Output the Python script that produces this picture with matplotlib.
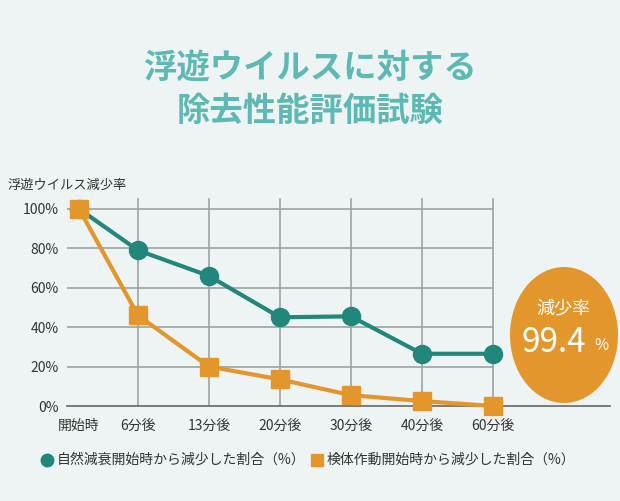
import matplotlib
matplotlib.use("Agg")
import matplotlib.pyplot as plt
from matplotlib.patches import Ellipse

plt.rcParams["font.family"] = "Noto Sans CJK JP"

categories = ["開始時", "6分後", "13分後", "20分後", "30分後", "40分後", "60分後"]
natural = [100, 79, 66, 45, 45.5, 26.5, 26.5]
device = [100, 46, 20, 13.5, 5.5, 2.5, 0]
yticks = [0, 20, 40, 60, 80, 100]

W, H = 620, 501
bg = "#eef4f4"
teal = "#20877a"
orange = "#e3962b"
fig = plt.figure(figsize=(W/100, H/100), dpi=100, facecolor=bg)

def px(x0, y0, x1, y1):
    return [x0/W, 1-y1/H, (x1-x0)/W, (y1-y0)/H]

ax = fig.add_axes(px(67, 190, 610, 406))
ax.set_facecolor(bg)
# first category sits a bit closer to the second one (layout offset)
x = [i if i > 0 else 0.17 for i in range(len(categories))]
ax.set_xlim(-0.0, 7.65)
ax.set_ylim(0, 109.6)
for xi in x[1:]:
    ax.plot([xi, xi], [0, 105], color="#9aa3a3", lw=1.2, zorder=1)
for yv in yticks[1:]:
    ax.plot([0, 6], [yv, yv], color="#9aa3a3", lw=1.2, zorder=1)
ax.plot(x, natural, color=teal, lw=3, marker="o", ms=13, zorder=3, clip_on=False)
ax.plot(x, device, color=orange, lw=3, marker="s", ms=13, zorder=4, clip_on=False)
for s in ["top", "right", "left"]:
    ax.spines[s].set_visible(False)
ax.spines["bottom"].set_color("#666666")
ax.spines["bottom"].set_linewidth(1.2)
ax.set_xticks(x)
ax.set_xticklabels(categories, fontsize=10, color="#333333")
ax.set_yticks(yticks)
ax.set_yticklabels([f"{v}%" for v in yticks], fontsize=10, color="#333333")
ax.tick_params(axis="x", length=0, pad=9)
ax.tick_params(axis="y", length=0, pad=6)

fig.text(0.5, 1-68/H, "浮遊ウイルスに対する", ha="center", va="center",
         fontsize=24, fontweight="bold", color="#5eb8b4")
fig.text(0.5, 1-111/H, "除去性能評価試験", ha="center", va="center",
         fontsize=24, fontweight="bold", color="#5eb8b4")
fig.text(8/W, 1-185/H, "浮遊ウイルス減少率", ha="left", va="center", fontsize=9.5, color="#333333")

ell = Ellipse((564/W, 1-335/H), 108/W, 136/H, transform=fig.transFigure,
              facecolor=orange, edgecolor="none")
fig.patches.append(ell)
fig.text(563/W, 1-308/H, "減少率", ha="center", va="center", fontsize=13, color="white")
fig.text(554/W, 1-342/H, "99.4", ha="center", va="center", fontsize=24, color="white")
fig.text(601/W, 1-345/H, "%", ha="center", va="center", fontsize=11, color="white")

fig.lines.append(plt.Line2D([47/W], [1-460/H], marker="o", ms=9, color=teal, transform=fig.transFigure))
fig.text(57/W, 1-460/H, "自然減衰開始時から減少した割合（%）", ha="left", va="center", fontsize=10, color="#333333")
fig.lines.append(plt.Line2D([317/W], [1-460/H], marker="s", ms=9, color=orange, transform=fig.transFigure))
fig.text(327/W, 1-460/H, "検体作動開始時から減少した割合（%）", ha="left", va="center", fontsize=10, color="#333333")

fig.savefig("out.png", dpi=100, facecolor=bg)
